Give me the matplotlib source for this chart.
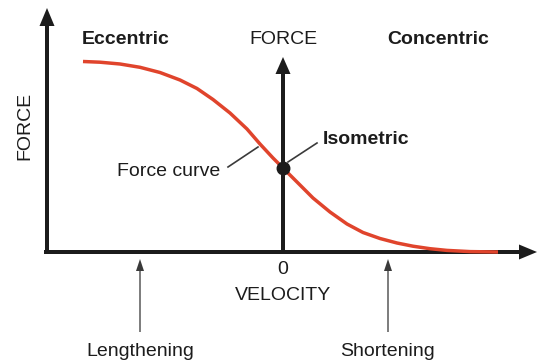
import matplotlib
matplotlib.use("Agg")
import matplotlib.pyplot as plt

plt.rcParams["font.family"] = ["Liberation Sans", "DejaVu Sans"]

# force-velocity curve
# (velocity: 0 at the isometric point, force: 0 on the velocity axis)
velocity = [-200, -183, -163, -143, -123, -103, -86, -70, -53, -36, -23, -10,
            0, 17, 30, 47, 64, 80, 97, 114, 130, 147, 164, 187, 215]
force = [190.5, 189.8, 188, 184.7, 179.5, 172, 163.5, 152.5, 139, 123, 108, 94,
         84, 67, 54, 40, 28, 19.5, 13.5, 9, 5.8, 3.3, 1.6, 0.4, 0]

isometric_point = (0, 84)
region_labels = ["Eccentric", "Concentric"]
direction_labels = ["Lengthening", "Shortening"]
direction_x = [-143, 105]
zero_label = "0"

ink = "#1c1c1c"
red = "#e0442c"
grey = "#3a3a3a"

fig = plt.figure(figsize=(5.37, 3.62), dpi=100)
ax = fig.add_axes([0, 0, 1, 1])
ax.set_xlim(-283, 254)
ax.set_ylim(-110, 252)
ax.axis("off")

# axes drawn as arrows (1 data unit = 1 pixel)
ax.arrow(-239, 0, 493, 0, width=4, head_width=15, head_length=18,
         length_includes_head=True, color=ink, lw=0, zorder=2)
ax.arrow(-236, -2, 0, 246, width=4, head_width=15, head_length=18,
         length_includes_head=True, color=ink, lw=0, zorder=2)
ax.arrow(0, 0, 0, 195, width=4, head_width=15, head_length=17,
         length_includes_head=True, color=ink, lw=0, zorder=2)

# curve + isometric dot
ax.plot(velocity, force, color=red, lw=2.5, solid_capstyle="butt",
        solid_joinstyle="round", zorder=3)
ax.plot(*isometric_point, "o", color=ink, ms=9, zorder=4)

# leader lines
ax.plot([-55, -25], [85, 105], color=grey, lw=1.2, zorder=2)
ax.plot([5, 34], [90, 109], color=grey, lw=1.2, zorder=2)

# small direction arrows under the velocity axis
for dx in direction_x:
    ax.arrow(dx, -80, 0, 73, width=1.3, head_width=8, head_length=12,
             length_includes_head=True, color=grey, lw=0)

fs = 14
ax.text(-201, 212, region_labels[0], fontsize=fs, fontweight="bold",
        color=ink, ha="left", va="center")
ax.text(104, 212, region_labels[1], fontsize=fs, fontweight="bold",
        color=ink, ha="left", va="center")
ax.text(0, 212, "FORCE", fontsize=fs, color=ink, ha="center", va="center")
ax.text(-258, 126, "FORCE", fontsize=fs, color=ink, ha="center",
        va="center", rotation=90)
ax.text(40, 112, "Isometric", fontsize=fs, fontweight="bold", color=ink,
        ha="left", va="center")
ax.text(-63, 80, "Force curve", fontsize=fs, color=ink, ha="right",
        va="center")
ax.text(0, -18, zero_label, fontsize=fs, color=ink, ha="center", va="center")
ax.text(0, -43, "VELOCITY", fontsize=fs, color=ink, ha="center", va="center")
for dx, lab in zip(direction_x, direction_labels):
    ax.text(dx, -100, lab, fontsize=fs, color=ink, ha="center", va="center")

fig.savefig("out.png", dpi=100)
